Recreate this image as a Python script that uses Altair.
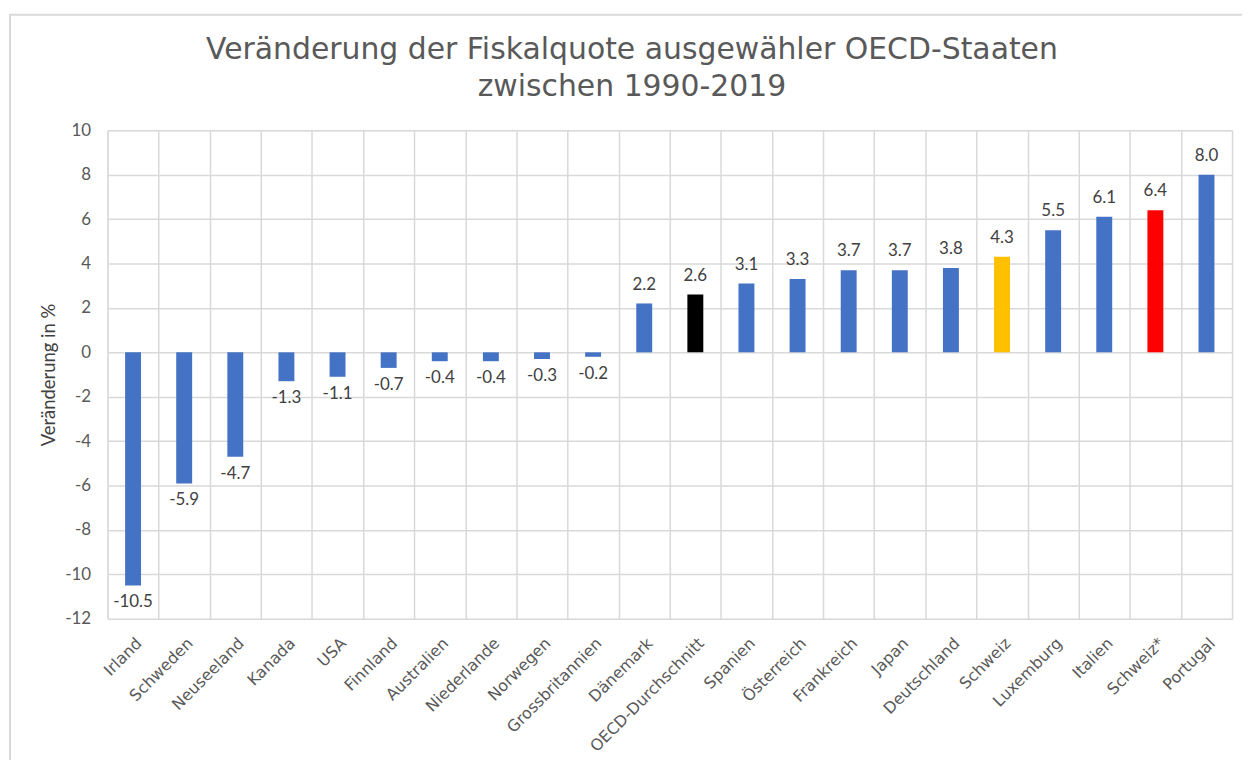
import altair as alt
import pandas as pd

countries = ["Irland", "Schweden", "Neuseeland", "Kanada", "USA", "Finnland", "Australien",
             "Niederlande", "Norwegen", "Grossbritannien", "Dänemark", "OECD-Durchschnitt",
             "Spanien", "Österreich", "Frankreich", "Japan", "Deutschland", "Schweiz",
             "Luxemburg", "Italien", "Schweiz*", "Portugal"]
values = [-10.5, -5.9, -4.7, -1.3, -1.1, -0.7, -0.4, -0.4, -0.3, -0.2, 2.2, 2.6,
          3.1, 3.3, 3.7, 3.7, 3.8, 4.3, 5.5, 6.1, 6.4, 8.0]
groups = ["OECD"] * 11 + ["Durchschnitt"] + ["OECD"] * 5 + ["Schweiz"] + ["OECD"] * 2 + ["Schweiz*"] + ["OECD"]

df = pd.DataFrame({"Land": countries, "Wert": values, "Gruppe": groups})

grid = "#d9d9d9"
txt = "#595959"

x = alt.X("Land:N", sort=countries, title=None,
          scale=alt.Scale(paddingInner=0, paddingOuter=0),
          axis=alt.Axis(labelAngle=-45, tickBand="extent", grid=True, gridColor=grid,
                        gridWidth=1.5, domain=False, ticks=False, labelPadding=16,
                        labelFont="DejaVu Sans", labelFontSize=16, labelColor=txt))
y = alt.Y("Wert:Q", title="Veränderung in %",
          scale=alt.Scale(domain=[-12, 10], nice=False),
          axis=alt.Axis(values=list(range(-12, 11, 2)), grid=True, gridColor=grid, gridWidth=1.5,
                        domain=False, ticks=False, labelPadding=17, labelFont="Lato",
                        labelFontSize=17, labelColor=txt, labelExpr="datum.value + ''",
                        titleFont="Lato", titleFontSize=18.5,
                        titleFontWeight="normal", titleColor="#404040", titlePadding=6))

color = alt.Color("Gruppe:N", legend=None,
                  scale=alt.Scale(domain=["OECD", "Durchschnitt", "Schweiz", "Schweiz*"],
                                  range=["#4472C4", "#000000", "#FFC000", "#FF0000"]))

base = alt.Chart(df).transform_calculate(
    label="replace(format(datum.Wert, '.1f'), '\u2212', '-')"
)

bars = alt.Chart(df).mark_bar(size=16).encode(x=x, y=y, color=color)

pos = base.transform_filter("datum.Wert >= 0").mark_text(
    baseline="bottom", dy=-10, font="Lato", fontSize=17, color="#404040"
).encode(x=alt.X("Land:N", sort=countries), y="Wert:Q", text="label:N")

neg = base.transform_filter("datum.Wert < 0").mark_text(
    baseline="top", dy=9, font="Lato", fontSize=17, color="#404040"
).encode(x=alt.X("Land:N", sort=countries), y="Wert:Q", text="label:N")

frame_df = pd.DataFrame({"k": [0]})
frame_top = alt.Chart(frame_df).mark_rule(color=grid, strokeWidth=2).encode(
    x=alt.value(-99), x2=alt.value(1142), y=alt.value(-116))
frame_left = alt.Chart(frame_df).mark_rule(color=grid, strokeWidth=2).encode(
    x=alt.value(-98), y=alt.value(-116), y2=alt.value(650))

chart = alt.layer(bars, pos, neg, frame_top, frame_left).properties(
    width=1130, height=491,
    title=alt.TitleParams(["Veränderung der Fiskalquote ausgewähler OECD-Staaten", "zwischen 1990-2019"],
                          font="DejaVu Sans", fontSize=30, fontWeight="normal", color=txt,
                          anchor="middle", dx=-38, dy=115, offset=26, lineHeight=38),
    autosize=alt.AutoSizeParams(type="none"),
    padding={"left": 100, "top": 121, "right": 10, "bottom": 140},
).configure_view(stroke=None).configure(background="white")

chart.save("out.html", embed_options={"renderer": "svg", "actions": False})
